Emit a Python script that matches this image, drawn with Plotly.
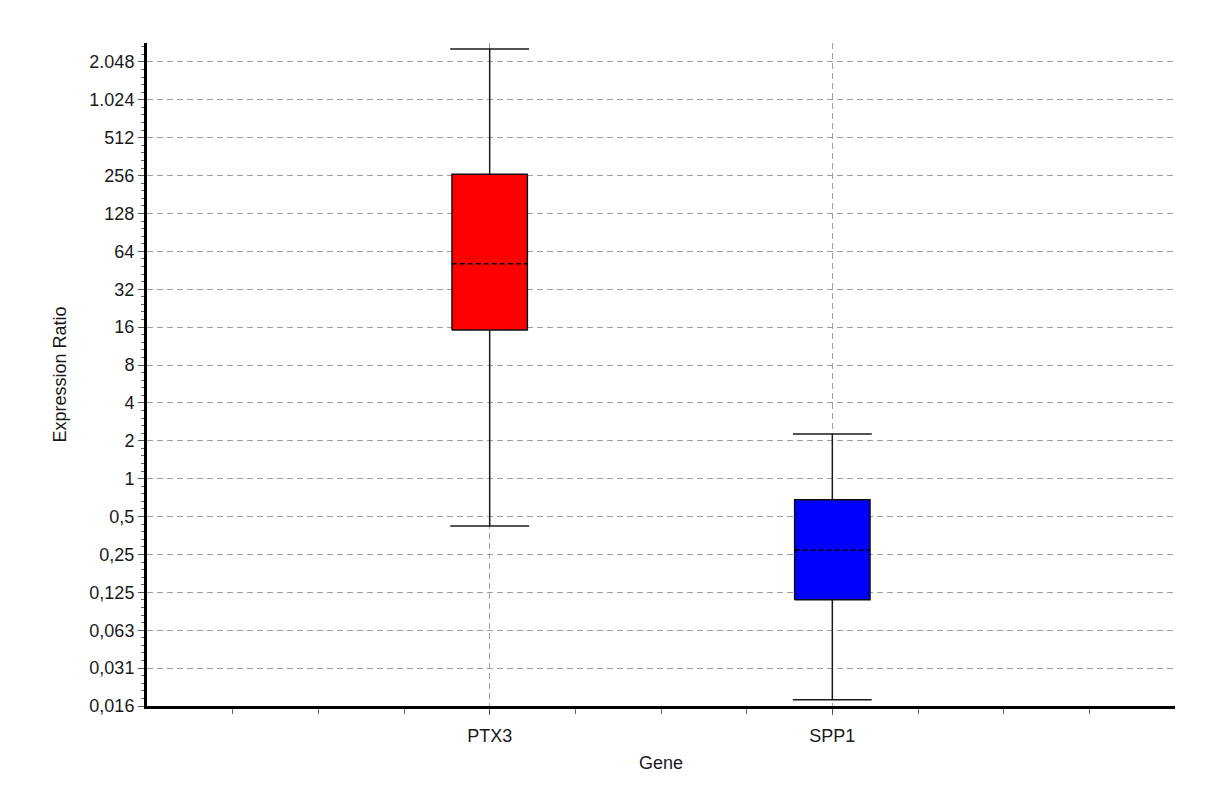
import math
import plotly.graph_objects as go

# Box statistics per gene (expression ratio, log2 scale)
genes = ["PTX3", "SPP1"]
whisker_low = [0.42, 0.0175]
q1 = [15.2, 0.109]
median = [51.0, 0.27]
q3 = [263.0, 0.68]
whisker_high = [2600.0, 2.27]
box_colors = ["#ff0000", "#0000ff"]

# Y axis ticks: powers of two from 2^-6 to 2^11
tick_exps = list(range(-6, 12))
tick_labels = ["0,016", "0,031", "0,063", "0,125", "0,25", "0,5", "1", "2", "4",
               "8", "16", "32", "64", "128", "256", "512", "1.024", "2.048"]

positions = [i + 1 for i in range(len(genes))]
half_w = 0.11
cap_half = 0.115

fig = go.Figure()

for pos, lo, a, m, b, hi, col in zip(positions, whisker_low, q1, median, q3,
                                       whisker_high, box_colors):
    # whisker stems
    fig.add_trace(go.Scatter(
        x=[pos, pos, None, pos, pos], y=[lo, a, None, b, hi],
        mode="lines", line=dict(color="#1a1a1a", width=1.5),
        hoverinfo="skip", showlegend=False))
    # whisker caps
    fig.add_trace(go.Scatter(
        x=[pos - cap_half, pos + cap_half, None, pos - cap_half, pos + cap_half],
        y=[lo, lo, None, hi, hi],
        mode="lines", line=dict(color="#1a1a1a", width=1.5),
        hoverinfo="skip", showlegend=False))
    # interquartile box
    fig.add_trace(go.Scatter(
        x=[pos - half_w, pos + half_w, pos + half_w, pos - half_w, pos - half_w],
        y=[a, a, b, b, a],
        mode="lines", fill="toself", fillcolor=col,
        line=dict(color="#111111", width=1.5),
        hoverinfo="skip", showlegend=False))
    # median
    fig.add_trace(go.Scatter(
        x=[pos - half_w, pos + half_w], y=[m, m],
        mode="lines", line=dict(color="#000000", width=1.5, dash="5px,3px"),
        hoverinfo="skip", showlegend=False))

y_lo_exp, y_hi_exp = -6, 11.5
minor_y = [2 ** (k + i / 5) for k in range(-6, 12) for i in range(1, 5)
           if k + i / 5 < y_hi_exp]
minor_x = [i * 0.25 for i in range(1, 12) if i % 4 != 0]

font_family = "Liberation Sans, Arial, sans-serif"

fig.update_layout(
    width=1206, height=801,
    margin=dict(l=147, r=31, t=43, b=95),
    paper_bgcolor="white", plot_bgcolor="white",
    font=dict(family=font_family, size=18, color="#1a1a1a"),
    showlegend=False,
    xaxis=dict(
        range=[0, 3],
        tickmode="array", tickvals=positions, ticktext=genes,
        ticks="outside", ticklen=6, tickcolor="#555555",
        ticklabelstandoff=5,
        showgrid=True, gridcolor="#a0a0a0", griddash="6px,4px", gridwidth=1,
        showline=True, linecolor="#000000", linewidth=3,
        zeroline=False,
        minor=dict(tickvals=minor_x, ticks="outside", ticklen=5,
                   tickcolor="#666666", showgrid=False),
        title=dict(text="Gene", font=dict(size=18), standoff=12),
        tickfont=dict(size=18),
    ),
    yaxis=dict(
        type="log",
        range=[y_lo_exp * math.log10(2), y_hi_exp * math.log10(2)],
        tickmode="array", tickvals=[2 ** k for k in tick_exps], ticktext=tick_labels,
        ticks="outside", ticklen=6, tickcolor="#555555",
        showgrid=True, gridcolor="#a0a0a0", griddash="6px,4px", gridwidth=1,
        showline=True, linecolor="#000000", linewidth=3,
        zeroline=False,
        minor=dict(tickvals=minor_y, ticks="outside", ticklen=3,
                   tickcolor="#666666", showgrid=False),
        title=dict(text="Expression Ratio", font=dict(size=18), standoff=19),
        tickfont=dict(size=18),
    ),
)

fig.write_html("out.html")
